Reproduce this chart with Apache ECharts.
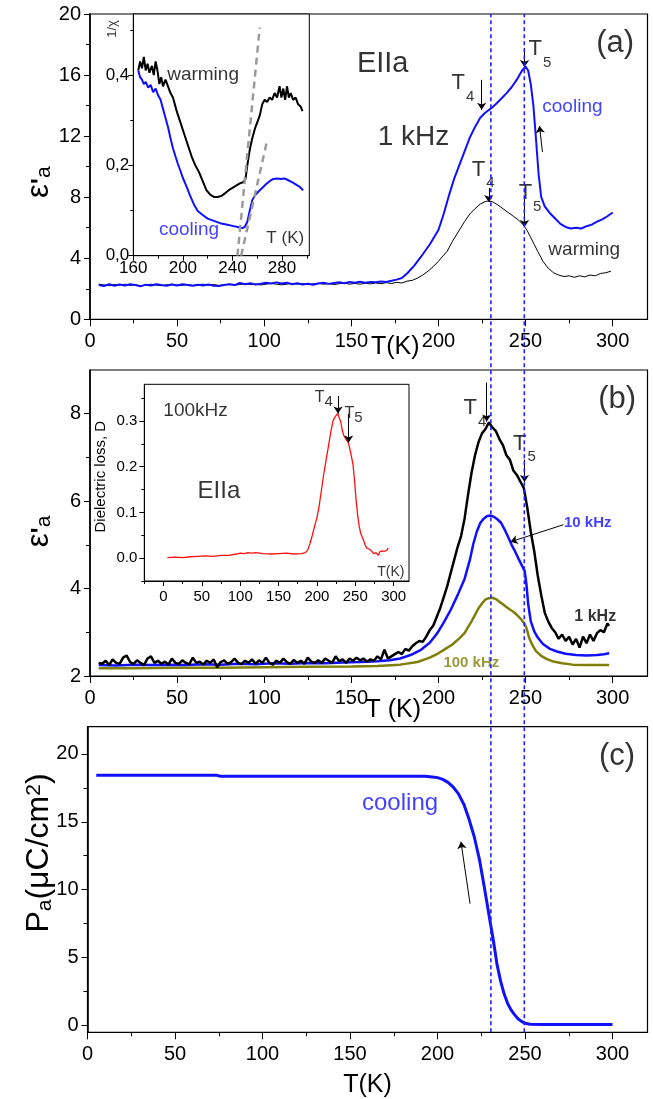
<!DOCTYPE html>
<html><head><meta charset="utf-8">
<script src="https://cdn.jsdelivr.net/npm/echarts@6/dist/echarts.min.js"></script>
<style>html,body{margin:0;padding:0;background:#fff}#c{width:653px;height:1099px}</style>
</head><body><div id="c"></div>
<script>
// ---------- DATA ----------
// Panel (a): epsilon'_a at 1 kHz, cooling and warming  [T(K), eps]
const aCooling = [[5,2.25],[8,2.18],[11,2.3],[14,2.2],[17,2.28],[20,2.22],[23,2.3],[26,2.24],[29,2.16],[32,2.27],[35,2.22],[38,2.3],[41,2.24],[44,2.2],[47,2.28],[50,2.22],[53,2.3],[56,2.25],[59,2.2],[62,2.26],[65,2.22],[68,2.28],[71,2.2],[74,2.18],[77,2.25],[80,2.3],[83,2.24],[86,2.38],[89,2.3],[92,2.36],[95,2.28],[98,2.33],[101,2.4],[104,2.35],[107,2.42],[110,2.34],[113,2.4],[116,2.3],[119,2.36],[122,2.28],[125,2.33],[128,2.26],[131,2.35],[134,2.4],[137,2.32],[140,2.38],[143,2.42],[146,2.36],[149,2.44],[152,2.4],[155,2.46],[158,2.4],[161,2.45],[164,2.42],[167,2.48],[170,2.45],[173,2.52],[176,2.6],[179,2.7],[182,3.0],[186,3.5],[190,4.1],[195,4.9],[200,5.85],[203,6.9],[206,8.1],[209,9.2],[212,10.1],[215,11.0],[218,11.9],[221,12.6],[224,13.2],[227,13.55],[230,13.8],[233,14.1],[236,14.45],[239,14.8],[242,15.2],[245,15.7],[248,16.3],[250,16.55],[251.5,16.3],[253,15.4],[254.5,14.0],[256,11.8],[257.5,9.5],[259,8.0],[261,7.4],[264,6.95],[267,6.6],[270,6.25],[273,6.05],[276,5.95],[279,6.0],[282,5.95],[285,6.1],[288,6.2],[291,6.4],[294,6.55],[297,6.75],[300,7.0]];
const aWarming = [[5,2.3],[8,2.25],[11,2.2],[14,2.28],[17,2.24],[20,2.3],[23,2.22],[26,2.27],[29,2.2],[32,2.25],[35,2.3],[38,2.24],[41,2.2],[44,2.26],[47,2.3],[50,2.24],[53,2.22],[56,2.28],[59,2.22],[62,2.27],[65,2.3],[68,2.24],[71,2.28],[74,2.22],[77,2.26],[80,2.3],[83,2.24],[86,2.28],[89,2.33],[92,2.27],[95,2.3],[98,2.25],[101,2.3],[104,2.35],[107,2.3],[110,2.26],[113,2.3],[116,2.36],[119,2.3],[122,2.34],[125,2.28],[128,2.32],[131,2.36],[134,2.3],[137,2.34],[140,2.28],[143,2.33],[146,2.38],[149,2.3],[152,2.35],[155,2.3],[158,2.36],[161,2.32],[164,2.38],[167,2.33],[170,2.4],[173,2.35],[176,2.42],[179,2.38],[182,2.5],[185,2.55],[188,2.7],[191,2.9],[194,3.15],[197,3.45],[200,3.8],[203,4.2],[205,4.45],[208,5.1],[212,5.85],[215,6.4],[218,6.9],[221,7.25],[224,7.55],[227,7.72],[229,7.75],[231,7.7],[234,7.5],[237,7.25],[240,7.0],[243,6.75],[246,6.5],[249,6.15],[251,5.8],[253,5.35],[255,4.9],[257,4.45],[260,3.8],[263,3.35],[266,3.05],[269,2.9],[272,2.8],[275,2.85],[278,2.75],[281,2.85],[284,2.78],[287,2.9],[290,2.85],[293,3.0],[296,3.05],[299,3.15]];
// Panel (a) inset: 1/chi  [T(K), 1/chi]
const insWarming = [[164,0.41],[165.5,0.43],[167,0.415],[168.5,0.44],[170,0.41],[171.5,0.425],[173,0.405],[175,0.42],[176.5,0.4],[178,0.43],[179.5,0.41],[181,0.38],[182.5,0.395],[184,0.375],[186,0.39],[188,0.375],[190,0.36],[192,0.35],[195,0.32],[198,0.295],[201,0.27],[204,0.245],[207,0.22],[210,0.2],[213,0.185],[216,0.165],[219,0.145],[222,0.135],[225,0.13],[228,0.13],[231,0.132],[234,0.138],[237,0.145],[240,0.15],[243,0.155],[246,0.16],[249,0.163],[250.5,0.17],[252,0.2],[254,0.235],[256,0.26],[258,0.28],[260,0.295],[262,0.31],[264,0.335],[266,0.345],[268,0.34],[270,0.35],[272,0.345],[274,0.36],[276,0.35],[278,0.375],[279.5,0.35],[281,0.37],[282.5,0.345],[284,0.375],[285.5,0.35],[287,0.36],[289,0.345],[291,0.35],[293,0.335],[295,0.33],[296.5,0.32]];
const insCooling = [[164,0.41],[165.5,0.395],[167,0.39],[168.5,0.38],[170,0.385],[172,0.372],[174,0.378],[176,0.362],[178,0.37],[180,0.355],[182,0.345],[184,0.325],[186,0.305],[188,0.285],[190,0.26],[192,0.238],[194,0.22],[196,0.203],[198,0.188],[200,0.172],[203,0.153],[206,0.132],[209,0.113],[212,0.099],[216,0.09],[220,0.082],[225,0.077],[230,0.072],[235,0.069],[240,0.066],[245,0.063],[248,0.061],[250,0.064],[252,0.075],[254,0.1],[256,0.123],[258,0.133],[261,0.142],[264,0.15],[267,0.158],[270,0.165],[273,0.17],[276,0.171],[279,0.17],[282,0.171],[285,0.167],[288,0.163],[291,0.158],[294,0.153],[297,0.145]];
const insFit1 = [[244,0],[262,0.505]];
const insFit2 = [[247,0],[268,0.255]];
// Panel (b): epsilon'_a at three frequencies
const b1kHz = [[5,2.3],[7,2.28],[9,2.35],[11,2.25],[13,2.38],[15,2.3],[17,2.28],[19,2.42],[21,2.47],[23,2.32],[25,2.28],[27,2.36],[29,2.3],[31,2.25],[33,2.4],[35,2.45],[37,2.3],[39,2.35],[41,2.28],[43,2.33],[45,2.26],[47,2.4],[49,2.3],[51,2.28],[53,2.36],[55,2.3],[57,2.27],[59,2.42],[61,2.3],[63,2.33],[65,2.26],[67,2.35],[69,2.3],[71,2.38],[73,2.2],[75,2.32],[77,2.36],[79,2.28],[81,2.32],[83,2.4],[85,2.3],[87,2.27],[89,2.35],[91,2.3],[93,2.38],[95,2.28],[97,2.36],[99,2.3],[101,2.42],[103,2.3],[105,2.26],[107,2.35],[109,2.3],[111,2.4],[113,2.32],[115,2.28],[117,2.37],[119,2.3],[121,2.35],[123,2.28],[125,2.42],[127,2.33],[129,2.3],[131,2.36],[133,2.3],[135,2.4],[137,2.35],[139,2.3],[141,2.45],[143,2.34],[145,2.38],[147,2.3],[149,2.4],[151,2.35],[153,2.42],[155,2.36],[157,2.4],[159,2.33],[161,2.38],[163,2.35],[165,2.45],[167,2.38],[169,2.6],[171,2.4],[173,2.45],[175,2.5],[177,2.55],[179,2.5],[181,2.62],[183,2.58],[185,2.68],[187,2.75],[189,2.8],[191,2.78],[193,2.9],[195,3.05],[197,3.15],[199,3.35],[201,3.55],[203,3.8],[205,4.05],[207,4.35],[209,4.65],[211,4.95],[213,5.2],[215,5.6],[217,6.15],[219,6.65],[221,7.05],[223,7.35],[225,7.55],[227,7.65],[229,7.8],[231,7.68],[233,7.6],[235,7.42],[237,7.28],[239,7.05],[241,6.95],[243,6.7],[245,6.6],[247,6.45],[249,6.3],[251,5.85],[253,5.3],[255,4.85],[257,4.3],[259,3.85],[261,3.45],[263,3.25],[265,3.1],[267,3.0],[269,2.85],[271,2.95],[273,2.8],[275,2.9],[277,2.72],[279,2.85],[281,2.65],[283,2.9],[285,2.75],[287,2.95],[289,2.8],[291,2.98],[293,3.05],[295,3.0],[297,3.2],[298,3.15]];
const b10kHz = [[5,2.25],[15,2.24],[25,2.26],[35,2.25],[45,2.26],[55,2.25],[65,2.27],[75,2.26],[85,2.28],[95,2.27],[105,2.29],[115,2.28],[125,2.3],[135,2.29],[145,2.31],[155,2.32],[165,2.34],[172,2.36],[178,2.4],[184,2.48],[190,2.6],[195,2.76],[199,2.96],[203,3.22],[207,3.51],[211,3.85],[215,4.22],[218,4.65],[220,5.02],[222,5.3],[224,5.5],[226,5.6],[228,5.66],[230,5.67],[232,5.64],[234,5.58],[236,5.5],[238,5.35],[240,5.18],[242,5.0],[244,4.85],[246,4.68],[248,4.52],[249.5,4.4],[250.5,4.1],[251.5,3.65],[253,3.25],[255,3.02],[257,2.88],[260,2.73],[264,2.62],[268,2.56],[273,2.51],[279,2.48],[285,2.47],[291,2.48],[295,2.5],[298,2.52]];
const b100kHz = [[5,2.18],[25,2.18],[50,2.19],[75,2.19],[100,2.2],[125,2.21],[150,2.22],[165,2.23],[178,2.26],[188,2.32],[195,2.42],[200,2.52],[204,2.62],[208,2.72],[212,2.86],[215,2.98],[217,3.12],[219,3.25],[221,3.4],[223,3.55],[225,3.66],[227,3.75],[229,3.78],[231,3.79],[233,3.76],[235,3.7],[237,3.64],[239,3.58],[241,3.52],[243,3.47],[245,3.4],[247,3.32],[249,3.22],[250.5,3.1],[252,2.88],[254,2.7],[256,2.57],[259,2.46],[262,2.39],[266,2.33],[271,2.29],[277,2.26],[285,2.25],[298,2.25]];
// Panel (b) inset: dielectric loss at 100 kHz
const bLoss = [[5,0.001],[15,0.002],[25,0.001],[35,0.003],[45,0.004],[55,0.005],[65,0.004],[75,0.006],[85,0.006],[95,0.009],[100,0.011],[105,0.01],[110,0.012],[115,0.011],[120,0.012],[130,0.01],[140,0.009],[150,0.01],[160,0.011],[170,0.009],[180,0.01],[185,0.012],[188,0.018],[191,0.032],[194,0.05],[197,0.07],[200,0.088],[203,0.115],[206,0.15],[209,0.185],[212,0.215],[215,0.245],[218,0.275],[221,0.3],[224,0.31],[227,0.316],[229,0.312],[231,0.298],[233,0.28],[235,0.268],[237,0.262],[239,0.258],[241,0.252],[243,0.238],[245,0.222],[247,0.205],[249,0.17],[251,0.128],[253,0.095],[255,0.07],[257,0.055],[259,0.046],[261,0.038],[263,0.028],[265,0.022],[268,0.02],[271,0.016],[274,0.01],[277,0.012],[280,0.006],[282,0.014],[285,0.016],[288,0.015],[291,0.017],[293,0.022]];
// Panel (c): polarization P_a on cooling
const cPolar = [[5,18.42],[20,18.42],[40,18.42],[60,18.42],[74,18.42],[76,18.35],[100,18.35],[130,18.35],[160,18.35],[180,18.35],[193,18.35],[197,18.3],[200,18.25],[203,18.12],[206,17.9],[209,17.55],[212,17.05],[215,16.3],[218,15.2],[221,13.9],[224,12.2],[227,10.0],[230,7.7],[232,6.2],[234,4.5],[236,3.3],[238,2.35],[240,1.65],[242,1.15],[244,0.8],[246,0.5],[248,0.3],[250,0.17],[253,0.1],[260,0.08],[280,0.07],[300,0.07]];
// Transition temperatures (dashed lines)
const T4 = 230.5, T5 = 249.6;
// Tick values
const mainXTicks = [0,50,100,150,200,250,300], mainXMinor = [25,75,125,175,225,275];
const aYTicks = [0,4,8,12,16,20], aYMinor = [2,6,10,14,18];
const bYTicks = [2,4,6,8], bYMinor = [3,5,7];
const cYTicks = [0,5,10,15,20], cYMinor = [2.5,7.5,12.5,17.5];
const aInsXTicks = [160,200,240,280], aInsXMinor = [180,220,260,300];
const aInsYTicks = [0,0.2,0.4], aInsYMinor = [0.1,0.3,0.5];
const bInsXTicks = [0,50,100,150,200,250,300], bInsXMinor = [-25,25,75,125,175,225,275];
const bInsYTicks = [0,0.1,0.2,0.3], bInsYMinor = [-0.05,0.05,0.15,0.25,0.35];

// ---------- CHART ----------
const FONT = '"Liberation Sans", Arial, sans-serif';
const BLUE = '#1010ff', OLIVE = '#7f7f08', RED = '#ff1010', DASH = '#2020ff';
const chart = echarts.init(document.getElementById('c'), null, {renderer: 'canvas'});

const grids = [
  {left: 87.5, top: 14, width: 560, height: 305.3, show: true, borderColor: '#000', borderWidth: 1.2},
  {left: 133.3, top: 14, width: 176, height: 241.7, show: true, borderColor: '#000', borderWidth: 1, backgroundColor: '#fff', z: 3},
  {left: 87.5, top: 370, width: 560, height: 306, show: true, borderColor: '#000', borderWidth: 1.2},
  {left: 144.3, top: 384.3, width: 264.7, height: 196.7, show: true, borderColor: '#000', borderWidth: 1, backgroundColor: '#fff', z: 3},
  {left: 87.5, top: 726.7, width: 560, height: 305.6, show: true, borderColor: '#000', borderWidth: 1.2},
  {left: 87.5, top: 14, width: 560, height: 1018.3, show: false}
];

const xAxes = [], yAxes = [];
function addAxis(dim, gi, min, max, ticks, minor, o) {
  const arr = dim === 'x' ? xAxes : yAxes;
  const pos = dim === 'x' ? 'bottom' : 'left';
  const major = {
    type: 'value', gridIndex: gi, min: min, max: max, position: pos, z: o.z || 3,
    axisLine: {show: true, onZero: false, lineStyle: {color: '#000', width: o.lw || 1}},
    axisTick: {show: true, inside: false, customValues: ticks, length: o.tl || 6, lineStyle: {color: '#000', width: 1}},
    minorTick: {show: false},
    axisLabel: {show: true, customValues: ticks, fontSize: o.fs, margin: o.m, color: '#000', fontFamily: FONT, hideOverlap: false},
    splitLine: {show: false}
  };
  if (o.fmt) major.axisLabel.formatter = o.fmt;
  if (o.name) Object.assign(major, {name: o.name, nameLocation: 'middle', nameGap: o.ng, nameTextStyle: o.nts, nameMoveOverlap: false});
  const idx = arr.length;
  arr.push(major);
  arr.push({
    type: 'value', gridIndex: gi, min: min, max: max, position: pos, z: o.z || 3,
    axisLine: {show: false, onZero: false},
    axisTick: {show: true, inside: false, customValues: minor, length: o.mtl || 3, lineStyle: {color: '#000', width: 1}},
    axisLabel: {show: false}, splitLine: {show: false}
  });
  return idx;
}
const epsRich = {
  e: {fontSize: 31, fontFamily: FONT, color: '#000', lineHeight: 31},
  p: {fontSize: 26, fontFamily: FONT, fontWeight: 'bold', color: '#000', verticalAlign: 'top', lineHeight: 26, padding: [5, 0, 0, 0]},
  s: {fontSize: 21, fontFamily: FONT, color: '#000', verticalAlign: 'bottom', lineHeight: 21, padding: [26, 0, 0, 0]}
};
const polRich = {
  P: {fontSize: 32, fontFamily: FONT, color: '#000', lineHeight: 32},
  s: {fontSize: 21, fontFamily: FONT, color: '#000', verticalAlign: 'bottom', lineHeight: 21, padding: [19, 0, 0, 0]},
  u: {fontSize: 21, fontFamily: FONT, color: '#000', verticalAlign: 'top', lineHeight: 21}
};
// Panel a
const axA = addAxis('x', 0, 0, 320, mainXTicks, mainXMinor, {fs: 20, m: 12, tl: 7, mtl: 4, lw: 1.2,
  name: 'T(K)', ng: 15, nts: {fontSize: 25, fontFamily: FONT, color: '#000', padding: [0, 0, 0, 53]}});
const ayA = addAxis('y', 0, 0, 20, aYTicks, aYMinor, {fs: 20, m: 9, tl: 6, mtl: 4, lw: 1.6,
  name: '{e|ε}{p|\'}{s|a}', ng: 35, nts: {rich: epsRich, padding: [0, 31, 0, 0]}});
// Panel a inset
const fmtComma = v => v.toFixed(1).replace('.', ',');
const axAi = addAxis('x', 1, 160, 302, aInsXTicks, aInsXMinor, {fs: 17, m: 4, tl: 5, mtl: 3, lw: 1, z: 6});
const ayAi = addAxis('y', 1, 0, 0.535, aInsYTicks, aInsYMinor, {fs: 17, m: 4, tl: 5, mtl: 3, lw: 1, z: 6, fmt: fmtComma});
// Panel b
const axB = addAxis('x', 2, 0, 320, mainXTicks, mainXMinor, {fs: 20, m: 12, tl: 7, mtl: 4, lw: 1.2,
  name: 'T (K)', ng: 22, nts: {fontSize: 25, fontFamily: FONT, color: '#000', padding: [0, 0, 0, 49]}});
const ayB = addAxis('y', 2, 2, 9, bYTicks, bYMinor, {fs: 20, m: 9, tl: 6, mtl: 4, lw: 1.6,
  name: '{e|ε}{p|\'}{s|a}', ng: 35, nts: {rich: epsRich, padding: [0, 17, 0, 0]}});
// Panel b inset
const axBi = addAxis('x', 3, -25, 320, bInsXTicks, bInsXMinor, {fs: 15, m: 8, tl: 5, mtl: 3, lw: 1, z: 6});
const ayBi = addAxis('y', 3, -0.05, 0.38, bInsYTicks, bInsYMinor, {fs: 15, m: 7, tl: 5, mtl: 3, lw: 1, z: 6,
  fmt: v => v.toFixed(1),
  name: 'Dielectric loss, D', ng: 36, nts: {fontSize: 15, fontFamily: FONT, color: '#000', padding: [0, 0, 0, 12]}});
// Panel c
const axC = addAxis('x', 4, 0, 320, mainXTicks, mainXMinor, {fs: 20, m: 12, tl: 7, mtl: 4, lw: 1.2,
  name: 'T(K)', ng: 40, nts: {fontSize: 25, fontFamily: FONT, color: '#000'}});
const ayC = addAxis('y', 4, -0.5, 22, cYTicks, cYMinor, {fs: 20, m: 9, tl: 6, mtl: 4, lw: 1.6,
  name: '{P|P}{s|a}{P|(μC/cm}{u|2}{P|)}', ng: 32, nts: {rich: polRich, padding: [0, 0, 0, 53]}});
// Overlay for the dashed transition lines
xAxes.push({type: 'value', gridIndex: 5, min: 0, max: 320, show: false});
yAxes.push({type: 'value', gridIndex: 5, min: 0, max: 1, show: false});
const axO = xAxes.length - 1, ayO = yAxes.length - 1;

function line(data, xi, yi, color, width, extra) {
  return Object.assign({type: 'line', xAxisIndex: xi, yAxisIndex: yi, data: data, showSymbol: false, symbol: 'none',
    lineStyle: {color: color, width: width}, itemStyle: {color: color}, silent: true, animation: false, z: 4}, extra || {});
}
function texts(xi, yi, items) {
  return {type: 'scatter', xAxisIndex: xi, yAxisIndex: yi, symbolSize: 0, clip: false, silent: true, animation: false, z: 8,
    label: {show: true, position: 'inside', color: '#000', fontFamily: FONT},
    data: items.map(it => ({value: [it[0], it[1]], label: Object.assign({formatter: it[2]}, it[3])}))};
}
function arrows(xi, yi, items) {
  return {type: 'lines', coordinateSystem: 'cartesian2d', xAxisIndex: xi, yAxisIndex: yi, silent: true, animation: false, z: 8,
    symbol: ['none', 'arrow'], symbolSize: 7, lineStyle: {color: '#000', width: 1, opacity: 1, curveness: 0},
    data: items.map(a => ({coords: [[a[0], a[1]], [a[2], a[3]]]}))};
}
const tRich = {
  t: {fontSize: 22, fontFamily: FONT, color: '#000', verticalAlign: 'top', lineHeight: 24},
  s: {fontSize: 15, fontFamily: FONT, color: '#000', verticalAlign: 'top', lineHeight: 15, padding: [17, 0, 0, 1]}
};
const tRichSmall = {
  t: {fontSize: 16, fontFamily: FONT, color: '#000', verticalAlign: 'top', lineHeight: 18},
  s: {fontSize: 15, fontFamily: FONT, color: '#000', verticalAlign: 'top', lineHeight: 15, padding: [5, 0, 0, 0]}
};
const series = [
  // panel a
  line(aWarming, axA, ayA, '#000', 1),
  line(aCooling, axA, ayA, BLUE, 2),
  texts(axA, ayA, [
    [168, 16.7, 'EIIa', {fontSize: 29}],
    [185.7, 11.95, '1 kHz', {fontSize: 28}],
    [301.4, 18.04, '(a)', {fontSize: 31}],
    [214, 15.42, '{t|T}{s|4}', {rich: tRich}],
    [258.3, 17.65, '{t|T}{s|5}', {rich: tRich}],
    [225.7, 9.75, '{t|T}{s|4}', {rich: tRich}],
    [252.6, 8.21, '{t|T}{s|5}', {rich: tRich}],
    [276.9, 13.9, 'cooling', {fontSize: 19, color: BLUE}],
    [283.7, 4.54, 'warming', {fontSize: 19}]
  ]),
  arrows(axA, ayA, [
    [224.8, 15.69, 224.8, 13.72], [249.4, 17.78, 249.4, 16.53],
    [228.9, 8.6, 228.9, 7.69], [249.4, 8.01, 249.4, 6.05], [259.7, 10.96, 258, 12.66]
  ]),
  // panel a inset
  line(insFit1, axAi, ayAi, '#9a9a9a', 2.5, {lineStyle: {color: '#9a9a9a', width: 2.5, type: [7, 5]}, z: 7}),
  line(insFit2, axAi, ayAi, '#9a9a9a', 2.5, {lineStyle: {color: '#9a9a9a', width: 2.5, type: [7, 5]}, z: 7}),
  line(insWarming, axAi, ayAi, '#000', 2, {z: 6}),
  line(insCooling, axAi, ayAi, BLUE, 2, {z: 6}),
  texts(axAi, ayAi, [
    [216.3, 0.40, 'warming', {fontSize: 19}],
    [205, 0.057, 'cooling', {fontSize: 19, color: BLUE}],
    [282.6, 0.039, 'T (K)', {fontSize: 17}],
    [142.8, 0.502, '1/χ', {fontSize: 13, rotate: 90}]
  ]),
  // panel b
  line(b100kHz, axB, ayB, OLIVE, 2.5),
  line(b10kHz, axB, ayB, BLUE, 2.5),
  line(b1kHz, axB, ayB, '#000', 2.5),
  texts(axB, ayB, [
    [302.6, 8.32, '(b)', {fontSize: 31}],
    [220.9, 8.11, '{t|T}{s|4}', {rich: tRich}],
    [249.4, 7.29, '{t|T}{s|5}', {rich: tRich}],
    [285.7, 5.5, '10 kHz', {fontSize: 15, fontWeight: 'bold', color: BLUE}],
    [290, 3.35, '1 kHz', {fontSize: 16, fontWeight: 'bold'}],
    [218.9, 2.30, '100 kHz', {fontSize: 15, fontWeight: 'bold', color: OLIVE}]
  ]),
  arrows(axB, ayB, [
    [227.7, 8.71, 227.7, 7.82], [249.4, 6.95, 249.4, 6.44], [271.7, 5.46, 241.4, 5.07]
  ]),
  // panel b inset
  line(bLoss, axBi, ayBi, RED, 1.3, {z: 6}),
  texts(axBi, ayBi, [
    [41.8, 0.323, '100kHz', {fontSize: 19}],
    [72.3, 0.147, 'EIIa', {fontSize: 24}],
    [208.9, 0.3495, '{t|T}{s|4}', {rich: tRichSmall}],
    [247.8, 0.3145, '{t|T}{s|5}', {rich: tRichSmall}],
    [296.4, -0.031, 'T(K)', {fontSize: 14}]
  ]),
  arrows(axBi, ayBi, [
    [227.5, 0.3545, 227.5, 0.316], [241.3, 0.315, 241.3, 0.253]
  ]),
  // panel c
  line(cPolar, axC, ayC, BLUE, 3),
  texts(axC, ayC, [
    [302.6, 19.78, '(c)', {fontSize: 31}],
    [178.6, 16.35, 'cooling', {fontSize: 24, color: BLUE}]
  ]),
  arrows(axC, ayC, [[218.6, 8.97, 213.4, 13.53]]),
  // dashed transition lines across all panels
  line([[T4, 0], [T4, 1]], axO, ayO, DASH, 1.6, {lineStyle: {color: DASH, width: 1.6, type: [4, 3]}, z: 9}),
  line([[T5, 0], [T5, 1]], axO, ayO, DASH, 1.6, {lineStyle: {color: DASH, width: 1.6, type: [4, 3]}, z: 9})
];

chart.setOption({
  animation: false,
  backgroundColor: '#fff',
  textStyle: {fontFamily: FONT},
  grid: grids,
  xAxis: xAxes,
  yAxis: yAxes,
  series: series
});
</script></body></html>
